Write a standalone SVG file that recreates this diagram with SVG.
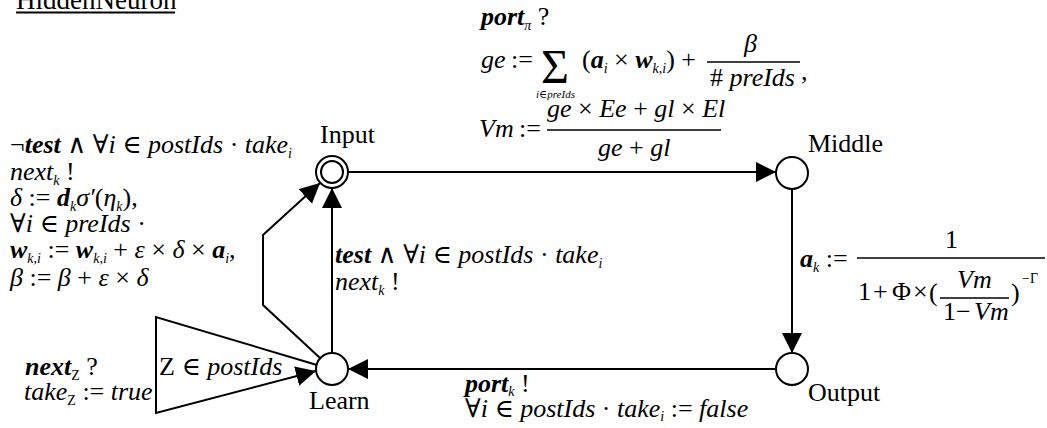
<svg xmlns="http://www.w3.org/2000/svg" width="1047" height="428" viewBox="0 0 1047 428">
<style>
text{font-family:"Liberation Serif","DejaVu Serif",serif;font-size:26px;fill:#000}
.i{font-style:italic}
.b{font-style:italic;font-weight:bold}
.s{font-size:14px;font-style:italic}
.sr{font-size:14px}
.n{stroke:#000;stroke-width:2;fill:#fff}
.e{stroke:#000;stroke-width:2;fill:none}
.bar{stroke:#000;stroke-width:1.5}
</style>
<defs>
<marker id="arr" markerUnits="userSpaceOnUse" markerWidth="22" markerHeight="22" refX="20" refY="10" orient="auto">
<path d="M0,0 L20,10 L0,20 Z" fill="#000"/>
</marker>
</defs>

<g id="title">
<text x="16" y="9" style="font-size:27px">HiddenNeuron</text>
<line x1="16" y1="12.5" x2="175" y2="12.5" stroke="#000" stroke-width="2"/>
</g>

<g id="connectors">
<path class="e" d="M348,172 H776" marker-end="url(#arr)"/>
<path class="e" d="M792,189 V353" marker-end="url(#arr)"/>
<path class="e" d="M776,369 H348" marker-end="url(#arr)"/>
<path class="e" d="M332,353 V188" marker-end="url(#arr)"/>
<path class="e" d="M320,358 L263,305 L263,235 L320,183" marker-end="url(#arr)"/>
<path class="e" d="M317,365 L156,317 L156,413 L316,371" marker-end="url(#arr)"/>
</g>

<g id="Input">
<circle class="n" cx="332" cy="172" r="16"/>
<circle class="n" cx="332" cy="172" r="11"/>
<text x="320" y="143">Input</text>
</g>
<g id="Middle">
<circle class="n" cx="792" cy="173" r="16"/>
<text x="808" y="152">Middle</text>
</g>
<g id="Output">
<circle class="n" cx="792" cy="369" r="16"/>
<text x="808" y="401">Output</text>
</g>
<g id="Learn">
<circle class="n" cx="332" cy="369" r="16"/>
<text x="309" y="409">Learn</text>
</g>

<g id="label-input-middle">
<text x="481" y="25"><tspan class="b">port</tspan><tspan class="s" dy="5">π</tspan><tspan dy="-5"> ?</tspan></text>
<text x="481" y="68" class="i">ge</text>
<text x="511" y="68">:=</text>
<text x="541" y="83" style="font-size:48px">Σ</text>
<text x="536" y="98" style="font-size:11px"><tspan class="i">i</tspan>∈<tspan class="i">preIds</tspan></text>
<text x="582" y="68">(<tspan class="b">a</tspan><tspan class="s" dy="5">i</tspan><tspan dy="-5"> × </tspan><tspan class="b">w</tspan><tspan class="s" dy="5">k,i</tspan><tspan dy="-5">) +</tspan></text>
<text x="744" y="52" class="i">β</text>
<line class="bar" x1="707" y1="62" x2="800" y2="62"/>
<text x="710" y="86"># <tspan class="i">preIds</tspan></text>
<text x="801" y="80">,</text>
<text x="479" y="137" class="i">Vm</text>
<text x="519" y="137">:=</text>
<text x="547" y="117" class="i">ge<tspan font-style="normal"> × </tspan>Ee<tspan font-style="normal"> + </tspan>gl<tspan font-style="normal"> × </tspan>El</text>
<line class="bar" x1="547" y1="130" x2="721" y2="130"/>
<text x="598" y="156" class="i">ge<tspan font-style="normal"> + </tspan>gl</text>
</g>

<g id="label-middle-output">
<text x="800" y="267"><tspan class="b">a</tspan><tspan class="s" dy="5">k</tspan><tspan dy="-5"> :=</tspan></text>
<line class="bar" x1="857" y1="258" x2="1045" y2="258"/>
<text x="945" y="248">1</text>
<text x="858" y="300">1</text>
<text x="873" y="300">+</text>
<text x="892" y="300">Φ</text>
<text x="913" y="300">×</text>
<text x="929" y="301">(</text>
<text x="957" y="288" class="i">Vm</text>
<line class="bar" x1="940" y1="298" x2="1009" y2="298"/>
<text x="943" y="320">1</text>
<text x="956" y="320">−</text>
<text x="974" y="320" class="i">Vm</text>
<text x="1011" y="301">)</text>
<text x="1022" y="283" class="sr">−Γ</text>
</g>

<g id="label-output-learn">
<text x="465" y="392"><tspan class="b">port</tspan><tspan class="s" dy="4">k</tspan><tspan dy="-4"> !</tspan></text>
<text x="465" y="417">∀<tspan class="i">i</tspan> ∈ <tspan class="i">postIds</tspan> · <tspan class="i">take</tspan><tspan class="s" dy="4">i</tspan><tspan dy="-4"> := </tspan><tspan class="i">false</tspan></text>
</g>

<g id="label-learn-input">
<text x="335" y="263"><tspan class="b">test</tspan> ∧ ∀<tspan class="i">i</tspan> ∈ <tspan class="i">postIds</tspan> · <tspan class="i">take</tspan><tspan class="s" dy="5">i</tspan></text>
<text x="335" y="290"><tspan class="i">next</tspan><tspan class="s" dy="5">k</tspan><tspan dy="-5"> !</tspan></text>
</g>

<g id="label-learn-input-bent">
<text x="10" y="153">¬<tspan class="b">test</tspan> ∧ ∀<tspan class="i">i</tspan> ∈ <tspan class="i">postIds</tspan> · <tspan class="i">take</tspan><tspan class="s" dy="5">i</tspan></text>
<text x="10" y="180"><tspan class="i">next</tspan><tspan class="s" dy="5">k</tspan><tspan dy="-5"> !</tspan></text>
<text x="10" y="206"><tspan class="i">δ</tspan> := <tspan class="b">d</tspan><tspan class="s" dy="5">k</tspan><tspan class="i" dy="-5">σ′</tspan>(<tspan class="i">η</tspan><tspan class="s" dy="5">k</tspan><tspan dy="-5">),</tspan></text>
<text x="10" y="232">∀<tspan class="i">i</tspan> ∈ <tspan class="i">preIds</tspan> ·</text>
<text x="10" y="258"><tspan class="b">w</tspan><tspan class="s" dy="5">k,i</tspan><tspan dy="-5"> := </tspan><tspan class="b">w</tspan><tspan class="s" dy="5">k,i</tspan><tspan dy="-5"> + </tspan><tspan class="i">ε</tspan> × <tspan class="i">δ</tspan> × <tspan class="b">a</tspan><tspan class="s" dy="5">i</tspan><tspan dy="-5">,</tspan></text>
<text x="10" y="286"><tspan class="i">β</tspan> := <tspan class="i">β</tspan> + <tspan class="i">ε</tspan> × <tspan class="i">δ</tspan></text>
</g>

<g id="label-learn-self">
<text x="25" y="375"><tspan class="b">next</tspan><tspan class="sr" dy="5">Z</tspan><tspan dy="-5"> ?</tspan></text>
<text x="24" y="400"><tspan class="i">take</tspan><tspan class="sr" dy="5">Z</tspan><tspan dy="-5"> := </tspan><tspan class="i">true</tspan></text>
<text x="159" y="375">Z ∈ <tspan class="i">postIds</tspan></text>
</g>
</svg>
